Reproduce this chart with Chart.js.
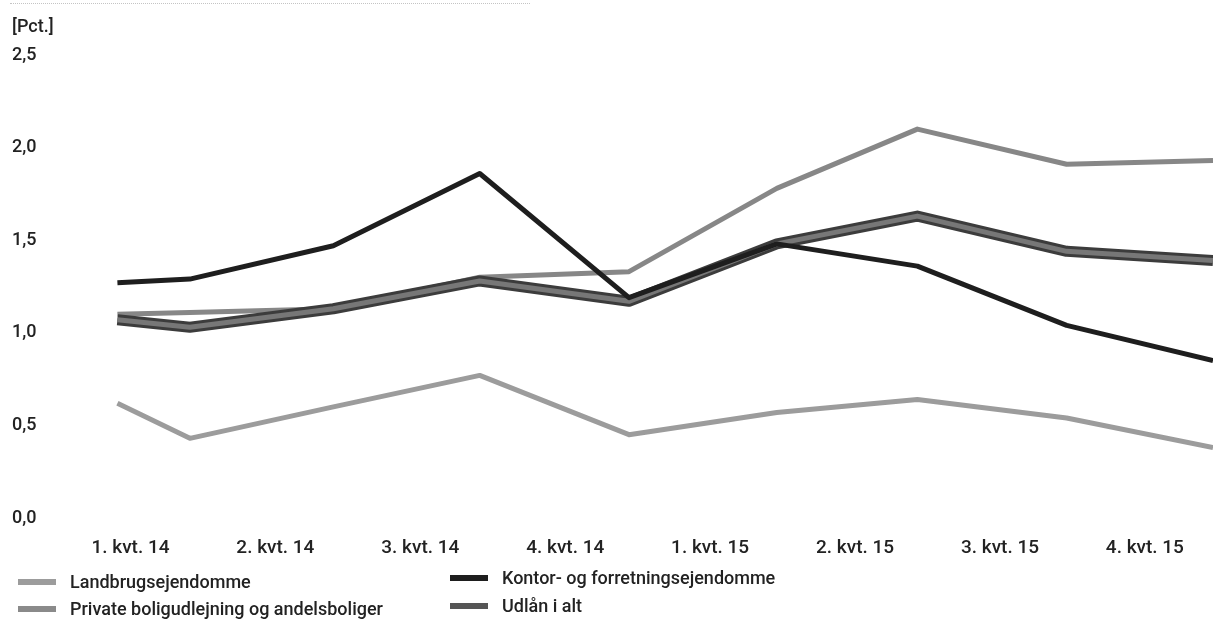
<!DOCTYPE html>
<html>
<head>
<meta charset="utf-8">
<script src="https://cdn.jsdelivr.net/npm/chart.js@4/dist/chart.umd.min.js"></script>
<style>
  html, body { margin: 0; padding: 0; background: #fff; }
  #wrap { position: relative; width: 1213px; height: 624px; overflow: hidden; font-family: Roboto, "Liberation Sans", sans-serif; font-weight: 500; color: #222; }
  #c { position: absolute; left: 0; top: 0; }
  #rule { position: absolute; left: 10px; top: 3px; width: 520px; border-top: 1px dotted #c4c4c4; }
  #unit { position: absolute; left: 12px; top: 15px; font-size: 18px; }
  .leg { position: absolute; font-size: 18px; line-height: 20px; white-space: nowrap; }
  .leg i { display: inline-block; width: 38px; height: 6px; margin-right: 14px; vertical-align: middle; position: relative; top: -1px; }
</style>
</head>
<body>
<div id="wrap">
  <canvas id="c" width="1213" height="624"></canvas>
  <div id="rule"></div>
  <div id="unit">[Pct.]</div>
  <div id="legend"></div>
</div>
<script>
// Quarter labels and where each observation sits along the quarter axis
const quarterLabels = ['1. kvt. 14', '2. kvt. 14', '3. kvt. 14', '4. kvt. 14',
                       '1. kvt. 15', '2. kvt. 15', '3. kvt. 15', '4. kvt. 15'];
const quarterPos = [0.41, 0.91, 1.9, 2.91, 3.94, 4.96, 5.93, 6.96, 7.97];

// Series (pct.)
const landbrug = [0.62, 0.43, 0.60, 0.77, 0.45, 0.57, 0.64, 0.54, 0.38];
const privateBolig = [1.10, 1.11, 1.13, 1.30, 1.33, 1.78, 2.10, 1.91, 1.93];
const kontor = [1.27, 1.29, 1.47, 1.86, 1.19, 1.48, 1.36, 1.04, 0.85];
const udlaan = [1.07, 1.03, 1.13, 1.28, 1.17, 1.48, 1.63, 1.44, 1.39];

const yTicks = [0, 0.5, 1.0, 1.5, 2.0, 2.5];

const seriesNames = ['Landbrugsejendomme', 'Private boligudlejning og andelsboliger',
                     'Kontor- og forretningsejendomme', 'Udlån i alt'];

const pts = arr => arr.map((v, i) => ({ x: quarterPos[i], y: v }));
const fmt = v => v.toFixed(1).replace('.', ',');

// Inner lighter stroke on the thick total-lending line
const bandPlugin = {
  id: 'band',
  afterDatasetDraw(chart, args) {
    if (args.index !== 3) return;
    const meta = args.meta;
    const ctx = chart.ctx;
    const area = chart.chartArea;
    ctx.save();
    ctx.beginPath();
    ctx.rect(area.left - 10, area.top - 10, area.right - area.left + 20, area.bottom - area.top + 20);
    ctx.clip();
    ctx.beginPath();
    meta.data.forEach((p, i) => i ? ctx.lineTo(p.x, p.y) : ctx.moveTo(p.x, p.y));
    ctx.strokeStyle = '#777';
    ctx.lineWidth = 5;
    ctx.lineJoin = 'round';
    ctx.stroke();
    ctx.restore();
  }
};

new Chart(document.getElementById('c'), {
  type: 'line',
  data: {
    datasets: [
      { label: seriesNames[0], data: pts(landbrug), borderColor: '#9c9c9c', borderWidth: 5, order: 3 },
      { label: seriesNames[1], data: pts(privateBolig), borderColor: '#878787', borderWidth: 5, order: 2 },
      { label: seriesNames[2], data: pts(kontor), borderColor: '#1e1e1e', borderWidth: 5, order: 0 },
      { label: seriesNames[3], data: pts(udlaan), borderColor: '#3c3c3c', borderWidth: 11, order: 1 }
    ]
  },
  options: {
    responsive: false,
    animation: false,
    events: [],
    elements: {
      point: { radius: 0 },
      line: { tension: 0, borderJoinStyle: 'round', borderCapStyle: 'butt' }
    },
    layout: { padding: { left: 12, right: 0, top: 55, bottom: 56 } },
    plugins: { legend: { display: false }, tooltip: { enabled: false } },
    scales: {
      x: {
        type: 'linear',
        min: 0,
        max: 7.97,
        grid: { display: false },
        border: { display: false },
        afterBuildTicks(axis) {
          axis.ticks = quarterLabels.map((_, i) => ({ value: i + 0.5 }));
        },
        afterFit(axis) { axis.height = 50; },
        ticks: {
          autoSkip: false,
          maxRotation: 0,
          padding: 11,
          color: '#222',
          font: { family: 'Roboto', size: 19, weight: '500' },
          callback: (v) => quarterLabels[Math.round(v - 0.5)]
        }
      },
      y: {
        min: 0,
        max: 2.5,
        grid: { display: false },
        border: { display: false },
        afterBuildTicks(axis) {
          axis.ticks = yTicks.map(v => ({ value: v }));
        },
        afterFit(axis) { axis.width = 46; },
        ticks: {
          crossAlign: 'far',
          padding: 0,
          color: '#222',
          font: { family: 'Roboto', size: 18, weight: '500' },
          callback: (v) => fmt(v)
        }
      }
    }
  },
  plugins: [bandPlugin]
});

// Two-column legend under the plot
const legendItems = [
  { name: seriesNames[0], color: '#9c9c9c', left: 18, top: 572 },
  { name: seriesNames[1], color: '#8a8a8a', left: 18, top: 599 },
  { name: seriesNames[2], color: '#1e1e1e', left: 450, top: 568 },
  { name: seriesNames[3], color: '#555', left: 450, top: 596 }
];
const legend = document.getElementById('legend');
legendItems.forEach(it => {
  const d = document.createElement('div');
  d.className = 'leg';
  d.style.left = it.left + 'px';
  d.style.top = it.top + 'px';
  const sw = document.createElement('i');
  sw.style.background = it.color;
  d.appendChild(sw);
  d.appendChild(document.createTextNode(it.name));
  legend.appendChild(d);
});
</script>
</body>
</html>
